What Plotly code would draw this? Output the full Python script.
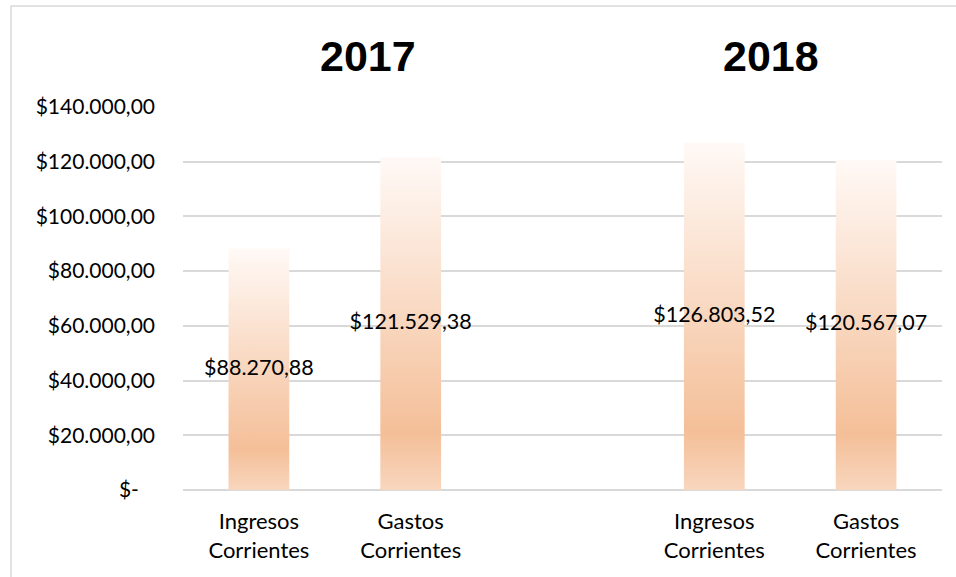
import plotly.graph_objects as go

# ---- data ----
years = ["2017", "2018"]
categories = ["Ingresos<br>Corrientes", "Gastos<br>Corrientes"]
values_2017 = [88270.88, 121529.38]
values_2018 = [126803.52, 120567.07]
y_ticks = [0, 20000, 40000, 60000, 80000, 100000, 120000, 140000]

# ---- style ----
FONT = "Lato"
BAR_W = 0.4
GRAD = [[0.0, "#F8D6BE"], [0.17, "#F4BF98"], [1.0, "#FFF9F6"]]


def money(v):
    s = f"{v:,.2f}"
    s = s.replace(",", "X").replace(".", ",").replace("X", ".")
    return "$" + s


def tick_money(v):
    if v == 0:
        return "$-\u00a0\u00a0\u00a0"
    return money(v)


series = [values_2017, values_2018]
fig = go.Figure()

xs, ys, labels, tickvals, ticktext = [], [], [], [], []
for g, vals in enumerate(series):
    for i, v in enumerate(vals):
        xc = g * 3 + i
        tickvals.append(xc)
        ticktext.append(categories[i])
        fig.add_trace(go.Scatter(
            x=[xc - BAR_W / 2, xc + BAR_W / 2, xc + BAR_W / 2, xc - BAR_W / 2, xc - BAR_W / 2],
            y=[0, 0, v, v, 0],
            mode="lines", line=dict(width=0), fill="toself",
            fillgradient=dict(type="vertical", colorscale=GRAD),
            hoverinfo="skip", showlegend=False,
        ))
        xs.append(xc)
        ys.append(v / 2)
        labels.append(money(v))

fig.add_trace(go.Scatter(
    x=xs, y=ys, mode="text", text=labels,
    textfont=dict(family=FONT, size=21.5, color="#000000"),
    textposition="middle center", showlegend=False, hoverinfo="skip",
))

title_x = [0.2437, 0.7747]
for yr, px in zip(years, title_x):
    fig.add_annotation(
        text=yr, x=px, y=1.133, xref="paper", yref="paper",
        showarrow=False, xanchor="center", yanchor="middle",
        font=dict(family="Liberation Sans", size=43, color="#000000", weight="bold"),
    )

# chart border
fig.add_shape(type="rect", xref="paper", yref="paper",
              x0=-0.2266, x1=1.03, y0=-0.3, y1=1.2637,
              line=dict(color="#D9D9D9", width=1.5), fillcolor="rgba(0,0,0,0)", layer="below")

fig.update_layout(
    width=956, height=577, autosize=False,
    margin=dict(l=183, r=14, t=107, b=87),
    paper_bgcolor="white", plot_bgcolor="white",
    showlegend=False,
    font=dict(family=FONT, size=21, color="#000000"),
    xaxis=dict(range=[-0.5, 4.5], tickvals=tickvals, ticktext=ticktext,
               showgrid=False, zeroline=False, showline=False, ticks="",
               ticklabelstandoff=16, tickfont=dict(family=FONT, size=22, color="#000000"),
               fixedrange=True),
    yaxis=dict(range=[0, 140000], tickvals=y_ticks, ticktext=[tick_money(v) for v in y_ticks],
               showgrid=True, gridcolor="#D9D9D9", gridwidth=2,
               zeroline=True, zerolinecolor="#D9D9D9", zerolinewidth=2,
               showline=False, ticks="", ticklabelstandoff=27,
               tickfont=dict(family=FONT, size=21, color="#000000"),
               fixedrange=True),
)

fig.write_html("out.html")
